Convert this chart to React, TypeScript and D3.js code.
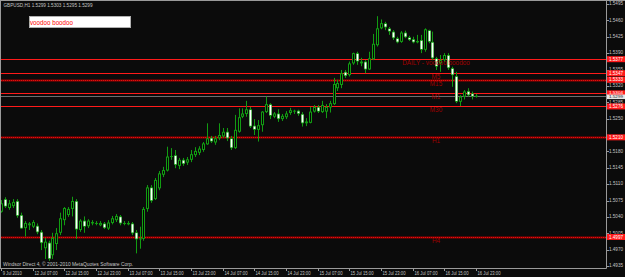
import React from "react";
import * as d3 from "d3";

const W = 625;
const H = 277;

const opens = [1.5051,1.5078,1.5059,1.5063,1.5074,1.5044,1.5016,1.5026,1.5019,1.5021,1.5008,1.4973,1.4985,1.4958,1.4982,1.5006,1.5033,1.5044,1.5057,1.5074,1.5012,1.5032,1.5020,1.5029,1.5027,1.5022,1.5026,1.5015,1.5027,1.5033,1.5041,1.5026,1.5024,1.5026,1.5007,1.4992,1.4993,1.5057,1.5103,1.5078,1.5101,1.5130,1.5139,1.5169,1.5172,1.5149,1.5162,1.5156,1.5162,1.5172,1.5177,1.5183,1.5195,1.5209,1.5199,1.5208,1.5212,1.5222,1.5208,1.5187,1.5222,1.5254,1.5260,1.5270,1.5235,1.5226,1.5236,1.5264,1.5281,1.5254,1.5261,1.5249,1.5253,1.5262,1.5267,1.5267,1.5260,1.5240,1.5241,1.5265,1.5275,1.5264,1.5265,1.5274,1.5281,1.5315,1.5322,1.5350,1.5343,1.5368,1.5390,1.5368,1.5372,1.5355,1.5377,1.5407,1.5443,1.5454,1.5443,1.5436,1.5422,1.5414,1.5434,1.5424,1.5420,1.5413,1.5418,1.5397,1.5439,1.5414,1.5379,1.5368,1.5375,1.5386,1.5358,1.5341,1.5286,1.5297,1.5309,1.5304,1.5299];
const highs = [1.5076,1.5082,1.5076,1.5078,1.5078,1.5049,1.5031,1.5029,1.5033,1.5026,1.5012,1.4995,1.4989,1.5006,1.5016,1.5049,1.5061,1.5061,1.5083,1.5078,1.5035,1.5041,1.5035,1.5033,1.5031,1.5031,1.5029,1.5033,1.5042,1.5046,1.5044,1.5031,1.5031,1.5029,1.5012,1.5019,1.5061,1.5108,1.5108,1.5123,1.5138,1.5147,1.5190,1.5187,1.5183,1.5166,1.5166,1.5168,1.5183,1.5189,1.5191,1.5200,1.5240,1.5213,1.5213,1.5240,1.5230,1.5230,1.5213,1.5258,1.5272,1.5272,1.5288,1.5275,1.5249,1.5247,1.5266,1.5297,1.5283,1.5264,1.5270,1.5260,1.5266,1.5273,1.5269,1.5269,1.5264,1.5251,1.5275,1.5279,1.5279,1.5288,1.5281,1.5288,1.5337,1.5333,1.5354,1.5354,1.5372,1.5391,1.5393,1.5380,1.5375,1.5393,1.5431,1.5469,1.5462,1.5457,1.5446,1.5439,1.5425,1.5437,1.5438,1.5427,1.5425,1.5429,1.5429,1.5443,1.5440,1.5436,1.5382,1.5386,1.5390,1.5390,1.5361,1.5350,1.5300,1.5311,1.5315,1.5308,1.5303];
const lows = [1.5049,1.5059,1.5055,1.5059,1.5038,1.5014,1.4998,1.5012,1.5016,1.5003,1.4969,1.4950,1.4946,1.4950,1.4969,1.5001,1.5022,1.5040,1.5041,1.4993,1.5008,1.5006,1.5016,1.5022,1.5022,1.5020,1.5014,1.5012,1.5024,1.5029,1.5022,1.5022,1.5022,1.5001,1.4962,1.4972,1.4989,1.5051,1.5070,1.5076,1.5097,1.5125,1.5137,1.5162,1.5144,1.5142,1.5149,1.5151,1.5157,1.5168,1.5172,1.5179,1.5194,1.5198,1.5194,1.5204,1.5209,1.5202,1.5183,1.5185,1.5220,1.5251,1.5254,1.5230,1.5215,1.5201,1.5222,1.5262,1.5249,1.5251,1.5243,1.5245,1.5249,1.5258,1.5260,1.5256,1.5233,1.5234,1.5240,1.5263,1.5262,1.5262,1.5251,1.5263,1.5279,1.5309,1.5315,1.5337,1.5340,1.5365,1.5365,1.5362,1.5347,1.5354,1.5375,1.5404,1.5441,1.5439,1.5429,1.5418,1.5411,1.5412,1.5422,1.5416,1.5411,1.5411,1.5390,1.5393,1.5411,1.5375,1.5354,1.5350,1.5371,1.5354,1.5318,1.5283,1.5277,1.5291,1.5297,1.5291,1.5295];
const closes = [1.5069,1.5062,1.5069,1.5072,1.5042,1.5015,1.5027,1.5022,1.5029,1.5007,1.4984,1.4987,1.4950,1.4995,1.5005,1.5037,1.5059,1.5057,1.5074,1.5013,1.5032,1.5019,1.5032,1.5026,1.5027,1.5027,1.5016,1.5028,1.5037,1.5042,1.5026,1.5027,1.5027,1.5005,1.4992,1.4994,1.5057,1.5103,1.5074,1.5119,1.5133,1.5140,1.5169,1.5170,1.5151,1.5162,1.5153,1.5163,1.5174,1.5181,1.5186,1.5197,1.5208,1.5201,1.5208,1.5215,1.5222,1.5208,1.5187,1.5226,1.5253,1.5261,1.5270,1.5233,1.5226,1.5236,1.5265,1.5281,1.5256,1.5261,1.5249,1.5256,1.5261,1.5268,1.5267,1.5260,1.5240,1.5244,1.5265,1.5275,1.5265,1.5279,1.5275,1.5283,1.5324,1.5326,1.5347,1.5341,1.5368,1.5390,1.5372,1.5372,1.5355,1.5379,1.5410,1.5443,1.5454,1.5445,1.5436,1.5422,1.5413,1.5434,1.5424,1.5418,1.5413,1.5416,1.5397,1.5441,1.5414,1.5379,1.5361,1.5375,1.5386,1.5358,1.5343,1.5286,1.5297,1.5308,1.5300,1.5297,1.5299];

const priceTicks = ["1.5495","1.5460","1.5425","1.5390","1.5355","1.5320","1.5285","1.5250","1.5215","1.5180","1.5145","1.5110","1.5075","1.5040","1.5005","1.4970","1.4935"];
const timeLabels = ["9 Jul 2010","12 Jul 07:00","12 Jul 15:00","12 Jul 23:00","13 Jul 07:00","13 Jul 15:00","13 Jul 23:00","14 Jul 07:00","14 Jul 15:00","14 Jul 23:00","15 Jul 07:00","15 Jul 15:00","15 Jul 23:00","16 Jul 07:00","16 Jul 15:00","16 Jul 23:00"];
const timeLabelBars = [0,8,16,24,32,40,48,56,64,72,80,88,96,104,112,120];

const levelNames = ["DAILY - voodoo boodoo","M5","M15","M1","M30","H1","H4"];
const levelPrices = [1.5377,1.5347,1.5333,1.5304,1.5276,1.5210,1.4997];
const levelHeavy = [false,false,true,false,false,true,true];

const symbolName = "GBPUSD,H1";
const bidPrice = 1.5299;

const GREEN = "#129c12";
const RED = "#ff1a1a";
const DARKRED = "#a00000";
const AXIS = "#9a9a9a";
const TEXT = "#c4c4c4";
const FONT = "'Liberation Sans', Arial, sans-serif";

const PLOT_L = 1;
const PLOT_R = 606.5;
const PLOT_T = 1;
const PLOT_B = 268;

export default function App() {
  const y = d3.scaleLinear().domain([1.4935, 1.5495]).range([266, 4]);
  const x = d3.scaleLinear().domain([0, 120]).range([1, 476]);
  const fmt = d3.format(".4f");

  const bars = opens.map((o, i) => ({ o, h: highs[i], l: lows[i], c: closes[i], i }));
  const boxYs = levelPrices.map((p) => y(p));
  const visibleTicks = priceTicks.filter((t) => boxYs.every((by) => Math.abs(y(+t) - by) >= 3));
  const bidY = y(bidPrice);
  const nearBid = (p: number) => Math.abs(y(p) - bidY) < 4;

  return (
    <svg width={W} height={H} style={{ position: "absolute", left: 0, top: 0, background: "#0b0b0b" }} fontFamily={FONT}>
      <defs>
        <clipPath id="plot">
          <rect x={PLOT_L} y={PLOT_T} width={PLOT_R - PLOT_L} height={PLOT_B - PLOT_T} />
        </clipPath>
      </defs>
      <rect x={0} y={0} width={W} height={H} fill="#0b0b0b" />

      <g clipPath="url(#plot)">
        {levelPrices.map((p, k) => {
          const yy = Math.round(y(p)) + 0.5;
          return levelHeavy[k] ? (
            <g key={"lv" + k}>
              <line x1={PLOT_L} x2={PLOT_R} y1={yy} y2={yy} stroke="#9a0000" strokeWidth={2} />
              <line x1={PLOT_L} x2={PLOT_R} y1={yy} y2={yy} stroke="#e01010" strokeWidth={1} strokeDasharray="1 1" />
            </g>
          ) : (
            <line key={"lv" + k} x1={PLOT_L} x2={PLOT_R} y1={yy} y2={yy} stroke={RED} strokeWidth={1} />
          );
        })}
        <line x1={PLOT_L} x2={PLOT_R} y1={Math.round(bidY) + 0.5} y2={Math.round(bidY) + 0.5} stroke="#6e6e6e" strokeWidth={1} />

        {bars.map((b) => {
          const X = Math.round(x(b.i));
          const bull = b.c >= b.o;
          const top = y(Math.max(b.o, b.c));
          const bot = y(Math.min(b.o, b.c));
          const hgt = Math.max(1, bot - top);
          return (
            <g key={"c" + b.i}>
              <line x1={X + 0.5} x2={X + 0.5} y1={y(b.h)} y2={y(b.l)} stroke={GREEN} strokeWidth={1} />
              <rect x={X - 1} y={top} width={3} height={hgt} fill={GREEN} />
              {hgt > 2 && (
                bull ? (
                  <rect x={X} y={top + 1} width={1} height={hgt - 2} fill="#050505" />
                ) : (
                  <rect x={X - 0.4} y={top + 0.8} width={1.8} height={hgt - 1.6} fill="#ffffff" />
                )
              )}
            </g>
          );
        })}

        {levelNames.map((n, k) => (
          <text key={"ln" + k} x={436} y={y(levelPrices[k]) + 4.2} fill={DARKRED} fontSize={6.4} textAnchor="middle" dominantBaseline="middle">{n}</text>
        ))}
      </g>

      <line x1={0} x2={W} y1={0.5} y2={0.5} stroke={AXIS} />
      <line x1={0.5} x2={0.5} y1={0} y2={PLOT_B} stroke={AXIS} />
      <line x1={PLOT_R} x2={PLOT_R} y1={0} y2={PLOT_B + 0.5} stroke={AXIS} />
      <line x1={0} x2={PLOT_R} y1={PLOT_B + 0.5} y2={PLOT_B + 0.5} stroke={AXIS} />

      {priceTicks.map((t) => (
        <line key={"tk" + t} x1={PLOT_R} x2={PLOT_R + 2.5} y1={Math.round(y(+t)) + 0.5} y2={Math.round(y(+t)) + 0.5} stroke={AXIS} />
      ))}
      {visibleTicks.map((t) => (
        <text key={"pt" + t} x={609} y={y(+t)} fill={TEXT} fontSize={5} dominantBaseline="middle" textLength={14} lengthAdjust="spacingAndGlyphs">{t}</text>
      ))}
      {levelPrices.map((p, k) => {
        const close = nearBid(p);
        return (
          <g key={"pl" + k}>
            <rect x={607} y={y(p) - 3} width={18} height={close ? 5.5 : 6} fill={RED} />
            <text x={609} y={y(p) + (close ? -0.5 : 0.3)} fill="#ffffff" fontSize={close ? 4.2 : 4.6} dominantBaseline="middle" textLength={14} lengthAdjust="spacingAndGlyphs">{fmt(p)}</text>
          </g>
        );
      })}
      <rect x={607} y={bidY - 1.2} width={18} height={4.6} fill="#e6e6e6" />
      <text x={609} y={bidY + 1.2} fill="#202020" fontSize={3.6} dominantBaseline="middle" textLength={14} lengthAdjust="spacingAndGlyphs">{fmt(bidPrice)}</text>

      {timeLabels.map((t, k) => {
        const xx = Math.round(x(timeLabelBars[k])) + 0.5;
        return (
          <g key={"tl" + k}>
            <line x1={xx} x2={xx} y1={PLOT_B} y2={PLOT_B + 3} stroke={AXIS} />
            <text x={k === 0 ? 2.7 : xx + 1} y={273.5} fill={TEXT} fontSize={5.2} dominantBaseline="middle" textLength={k === 0 ? 19 : 23} lengthAdjust="spacingAndGlyphs">{t}</text>
          </g>
        );
      })}

      <text x={3.5} y={5.5} fill={TEXT} fontSize={4.8} dominantBaseline="middle" textLength={89} lengthAdjust="spacingAndGlyphs">
        {`${symbolName}  ${fmt(opens[120])} ${fmt(highs[120])} ${fmt(lows[120])} ${fmt(closes[120])}`}
      </text>

      <rect x={29.5} y={16.5} width={101} height={11} fill="#ffffff" stroke="#b0b0b0" />
      <text x={30} y={22.5} fill="#ff0000" fontSize={8} dominantBaseline="middle" textLength={43} lengthAdjust="spacingAndGlyphs">voodoo boodoo</text>

      <text x={3} y={264.5} fill={TEXT} fontSize={4.8} dominantBaseline="middle" textLength={130} lengthAdjust="spacingAndGlyphs">Windsor Direct 4, © 2001-2010 MetaQuotes Software Corp.</text>
    </svg>
  );
}
